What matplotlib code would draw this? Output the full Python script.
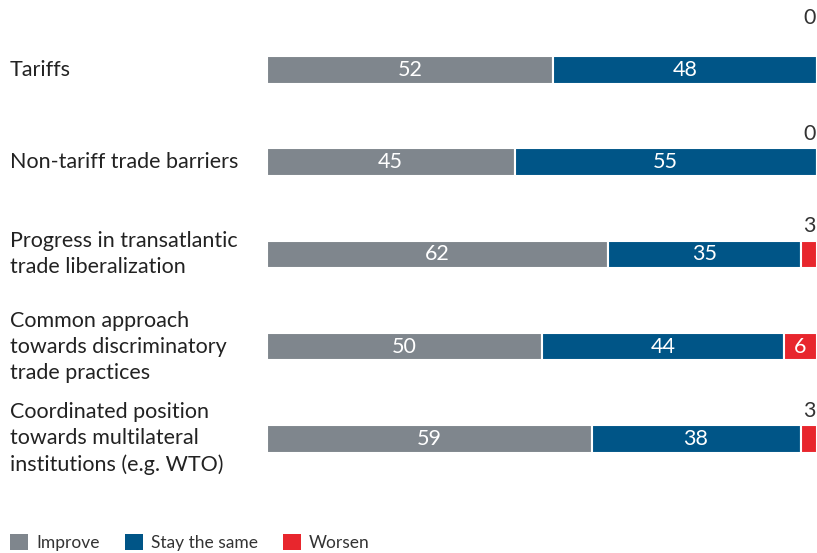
import matplotlib.pyplot as plt
from matplotlib.patches import Patch

plt.rcParams['font.family'] = ['Lato', 'DejaVu Sans']

categories = [
    'Tariffs',
    'Non-tariff trade barriers',
    'Progress in transatlantic\ntrade liberalization',
    'Common approach\ntowards discriminatory\ntrade practices',
    'Coordinated position\ntowards multilateral\ninstitutions (e.g. WTO)',
]
improve = [52, 45, 62, 50, 59]
same = [48, 55, 35, 44, 38]
worsen = [0, 0, 3, 6, 3]
series_names = ['Improve', 'Stay the same', 'Worsen']
colors = ['#7f868d', '#005587', '#e8262d']

fig = plt.figure(figsize=(8.17, 5.53), dpi=100)
ax = fig.add_axes([267 / 817, 0.123, 550 / 817, 0.834])

y = list(range(len(categories)))
h = 0.3
lefts = [0] * len(categories)
for vals, col in zip([improve, same, worsen], colors):
    ax.barh(y, vals, left=lefts, height=h, color=col, edgecolor='white', linewidth=1.5)
    lefts = [l + v for l, v in zip(lefts, vals)]

ax.set_xlim(0, 100)
ax.set_ylim(len(categories) - 0.5, -0.5)
ax.axis('off')

# value labels: inside when the bar is wide enough, else above the right end
top_off = [20, 3, 3, 3, 3]
for i in y:
    ax.text(improve[i] / 2, i, str(improve[i]), color='white', fontsize=15.5,
            ha='center', va='center')
    ax.text(improve[i] + same[i] / 2, i, str(same[i]), color='white', fontsize=15.5,
            ha='center', va='center')
    if worsen[i] >= 5:
        ax.text(100 - worsen[i] / 2, i, str(worsen[i]), color='white', fontsize=15.5,
                ha='center', va='center')
    else:
        ax.annotate(str(worsen[i]), xy=(100, i - h / 2), xytext=(-1, top_off[i]),
                    textcoords='offset points', ha='right', va='bottom',
                    fontsize=15.5, color='#333333', annotation_clip=False)

for i, cat in enumerate(categories):
    ax.annotate(cat, xy=(0, i), xycoords=('figure pixels', 'data'),
                xytext=(10, 0), textcoords='offset pixels',
                ha='left', va='center', fontsize=15.5, color='#222222',
                linespacing=1.38, annotation_clip=False)

handles = [Patch(facecolor=c, edgecolor='none') for c in colors]
fig.legend(handles, series_names, loc='lower left', bbox_to_anchor=(10 / 817, 0.003),
           ncol=3, frameon=False, fontsize=12.5, handlelength=1.05, handleheight=1.05,
           handletextpad=0.45, columnspacing=1.45, borderpad=0, borderaxespad=0,
           labelcolor='#333333')

fig.savefig('out.png', dpi=100)
